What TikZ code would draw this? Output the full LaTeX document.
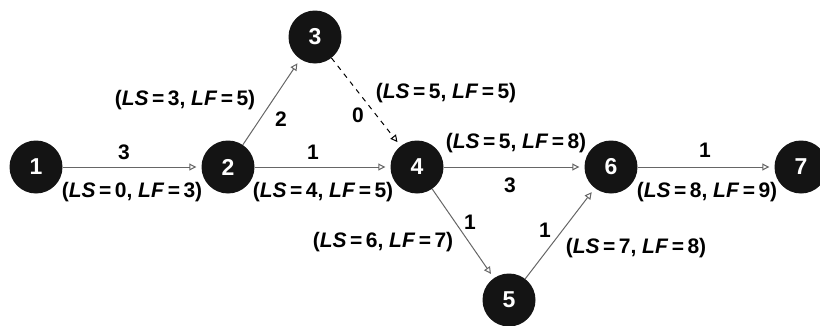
\documentclass[tikz,border=0pt]{standalone}
\usepackage{fontspec}
\setmainfont{Liberation Sans}
\usepackage{xcolor}
\usetikzlibrary{arrows.meta}
\definecolor{evtfill}{HTML}{141414}
\definecolor{actline}{HTML}{666666}
\tikzset{
  evt/.style={circle,fill=evtfill,minimum size=53pt,inner sep=0pt,text=white,font=\fontsize{23}{25}\selectfont\bfseries},
  act/.style={-{Triangle[open,length=7pt,width=7pt]},actline,line width=1pt,shorten >=5pt},
  dummy/.style={act,black,dashed,dash pattern=on 5pt off 5pt},
  lbl/.style={inner sep=0pt,font=\fontsize{21}{23}\selectfont\bfseries}
}
\newcommand{\lsf}[2]{(\textit{LS}\,=\,#1, \textit{LF}\,=\,#2)}
\begin{document}
\begin{tikzpicture}[x=1pt,y=1pt]
\useasboundingbox (0,0) rectangle (820,325);
% events
\foreach \n/\x/\y in {1/36/158,2/228/158,3/315/288,4/417/158,5/509/25,6/611/158,7/801/158}{\node[evt] (v\n) at (\x,\y) {\n};}
% activities
\foreach \a/\b in {1/2,2/3,2/4,4/6,4/5,5/6,6/7}{\draw[act] (v\a) -- (v\b);}
\draw[dummy] (v3) -- (v4);
% durations
\foreach \nm/\x/\y/\t in {d12/124/173/3,d23/281/206/2,d24/313/173/1,d34/358/210/0,d46/510/140/3,d45/470/103/1,d56/545/95/1,d67/705/175/1}{\node[lbl] (\nm) at (\x,\y) {\t};}
% late start / late finish
\foreach \nm/\x/\y/\s/\f in {t12/132/133/0/3,t23/185/225/3/5,t24/323/133/4/5,t34/446/232/5/5,t46/516/182/5/8,t45/383/83/6/7,t56/636/77/7/8,t67/707/133/8/9}{\node[lbl] (\nm) at (\x,\y) {\lsf{\s}{\f}};}
\end{tikzpicture}
\end{document}
